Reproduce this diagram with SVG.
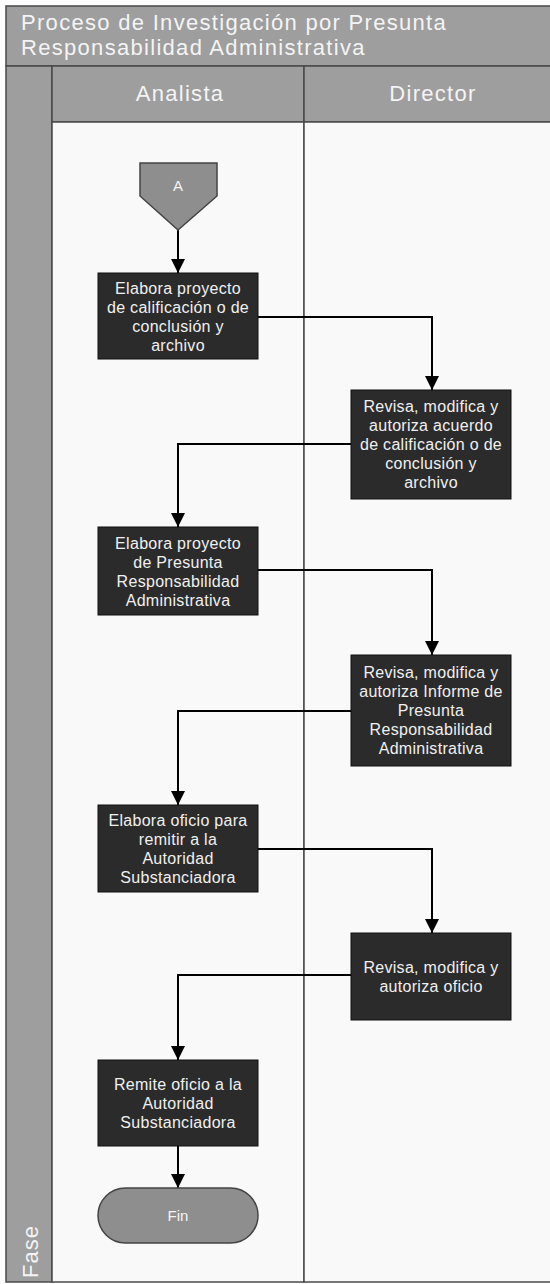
<svg xmlns="http://www.w3.org/2000/svg" width="550" height="1284" viewBox="0 0 550 1284">
<style>
.band{fill:#9e9e9e;stroke:#4a4a4a;stroke-width:1.5}
.lane{fill:#f9f9f9;stroke:#4a4a4a;stroke-width:1.5}
.hdr{font-family:"Liberation Sans",Arial,sans-serif;font-size:22px;letter-spacing:1.3px;fill:#f4f4f4}
.box{fill:#2b2b2b;stroke:#111;stroke-width:1}
.bt{font-family:"Liberation Sans",Arial,sans-serif;font-size:16px;letter-spacing:0.3px;fill:#f0f0f0;text-anchor:middle}
.gray{fill:#8e8e8e;stroke:#444;stroke-width:1.5}
.st{font-family:"Liberation Sans",Arial,sans-serif;font-size:15px;fill:#f4f4f4;text-anchor:middle}
.conn{fill:none;stroke:#000;stroke-width:2}
</style>
<defs>
<marker id="arr" markerUnits="userSpaceOnUse" markerWidth="14" markerHeight="14" viewBox="0 0 14 14" refX="14" refY="7" orient="auto">
<path d="M0,0 L14,7 L0,14 Z" fill="#000"/>
</marker>
</defs>
<g id="frame">
<rect class="band" x="6" y="6" width="546" height="60"/>
<text class="hdr" x="21" y="30">Proceso de Investigación por Presunta</text>
<text class="hdr" x="21" y="55">Responsabilidad Administrativa</text>
<rect class="band" x="6" y="66" width="46" height="1216"/>
<rect class="band" x="52" y="66" width="252" height="56"/>
<rect class="band" x="304" y="66" width="248" height="56"/>
<text class="hdr" x="180" y="101" text-anchor="middle">Analista</text>
<text class="hdr" x="433" y="101" text-anchor="middle">Director</text>
<rect class="lane" x="52" y="122" width="252" height="1160"/>
<rect class="lane" x="304" y="122" width="248" height="1160"/>
<text class="hdr" transform="translate(38,1278) rotate(-90)" style="letter-spacing:1px">Fase</text>
</g>
<g id="connectors">
<path class="conn" d="M178,230 L178,273" marker-end="url(#arr)"/>
<path class="conn" d="M258,317 L432,317 L432,390" marker-end="url(#arr)"/>
<path class="conn" d="M351,444 L178,444 L178,527" marker-end="url(#arr)"/>
<path class="conn" d="M258,570 L432,570 L432,655" marker-end="url(#arr)"/>
<path class="conn" d="M351,711 L178,711 L178,805" marker-end="url(#arr)"/>
<path class="conn" d="M258,849 L432,849 L432,933" marker-end="url(#arr)"/>
<path class="conn" d="M351,975 L178,975 L178,1060" marker-end="url(#arr)"/>
<path class="conn" d="M178,1146 L178,1188" marker-end="url(#arr)"/>
</g>
<g id="start-A">
<polygon class="gray" points="140,163 217,163 217,196 178,230 140,196"/>
<text class="st" x="178" y="191">A</text>
</g>
<g id="n1">
<rect class="box" x="98" y="273" width="160" height="86"/>
<text class="bt" x="178" y="294">Elabora proyecto</text>
<text class="bt" x="178" y="313">de calificación o de</text>
<text class="bt" x="178" y="332">conclusión y</text>
<text class="bt" x="178" y="351">archivo</text>
</g>
<g id="n2">
<rect class="box" x="351" y="390" width="160" height="109"/>
<text class="bt" x="431" y="412">Revisa, modifica y</text>
<text class="bt" x="431" y="431">autoriza acuerdo</text>
<text class="bt" x="431" y="450">de calificación o de</text>
<text class="bt" x="431" y="469">conclusión y</text>
<text class="bt" x="431" y="488">archivo</text>
</g>
<g id="n3">
<rect class="box" x="98" y="527" width="160" height="88"/>
<text class="bt" x="178" y="549">Elabora proyecto</text>
<text class="bt" x="178" y="568">de Presunta</text>
<text class="bt" x="178" y="587">Responsabilidad</text>
<text class="bt" x="178" y="606">Administrativa</text>
</g>
<g id="n4">
<rect class="box" x="351" y="655" width="160" height="111"/>
<text class="bt" x="431" y="678">Revisa, modifica y</text>
<text class="bt" x="431" y="697">autoriza Informe de</text>
<text class="bt" x="431" y="716">Presunta</text>
<text class="bt" x="431" y="735">Responsabilidad</text>
<text class="bt" x="431" y="754">Administrativa</text>
</g>
<g id="n5">
<rect class="box" x="98" y="805" width="160" height="87"/>
<text class="bt" x="178" y="826">Elabora oficio para</text>
<text class="bt" x="178" y="845">remitir a la</text>
<text class="bt" x="178" y="864">Autoridad</text>
<text class="bt" x="178" y="883">Substanciadora</text>
</g>
<g id="n6">
<rect class="box" x="351" y="933" width="160" height="87"/>
<text class="bt" x="431" y="973">Revisa, modifica y</text>
<text class="bt" x="431" y="992">autoriza oficio</text>
</g>
<g id="n7">
<rect class="box" x="98" y="1060" width="160" height="86"/>
<text class="bt" x="178" y="1090">Remite oficio a la</text>
<text class="bt" x="178" y="1109">Autoridad</text>
<text class="bt" x="178" y="1128">Substanciadora</text>
</g>
<g id="fin">
<rect class="gray" x="98" y="1188" width="160" height="55" rx="27.5" ry="27.5"/>
<text class="st" x="178" y="1221">Fin</text>
</g>
</svg>
